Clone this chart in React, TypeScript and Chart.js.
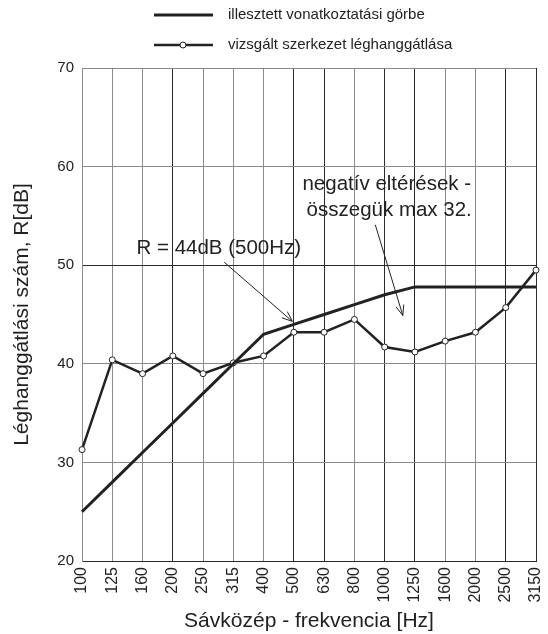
import React, { useEffect, useRef } from "react";
import { Chart, registerables } from "chart.js";

Chart.register(...registerables);

const frequencies = ["100", "125", "160", "200", "250", "315", "400", "500", "630", "800", "1000", "1250", "1600", "2000", "2500", "3150"];
const referenceCurve = [25, 28, 31, 34, 37, 40, 43, 44, 45, 46, 47, 47.8, 47.8, 47.8, 47.8, 47.8];
const measured = [31.3, 40.4, 39.0, 40.8, 39.0, 40.1, 40.8, 43.2, 43.2, 44.5, 41.7, 41.2, 42.3, 43.2, 45.7, 49.5];
const yTicks = [20, 30, 40, 50, 60, 70];
const legendLabels = ["illesztett vonatkoztatási görbe", "vizsgált szerkezet léghanggátlása"];
const xTitle = "Sávközép - frekvencia [Hz]";
const yTitle = "Léghanggátlási szám, R[dB]";
const note1 = "R = 44dB (500Hz)";
const note2 = ["negatív eltérések -", "összegük max 32."];

const INK = "#222222";
const GRID_GRAY = "#8a8a8a";
const GRID_DARK = "#2a2a2a";
const darkX = [3, 7, 8, 10, 11, 14, 15];
const darkY = [20, 50];
const FAMILY = "'Liberation Sans', Arial, sans-serif";

function arrow(ctx: CanvasRenderingContext2D, x1: number, y1: number, x2: number, y2: number) {
  const ang = Math.atan2(y2 - y1, x2 - x1);
  const len = 11;
  const spread = 0.38;
  ctx.beginPath();
  ctx.moveTo(x1, y1);
  ctx.lineTo(x2, y2);
  ctx.moveTo(x2 - len * Math.cos(ang - spread), y2 - len * Math.sin(ang - spread));
  ctx.lineTo(x2, y2);
  ctx.lineTo(x2 - len * Math.cos(ang + spread), y2 - len * Math.sin(ang + spread));
  ctx.stroke();
}

const overlay = {
  id: "overlay",
  afterDraw(chart: any) {
    const ctx: CanvasRenderingContext2D = chart.ctx;
    const xs = chart.scales.x;
    const ys = chart.scales.y;
    ctx.save();
    // legend
    ctx.strokeStyle = INK;
    ctx.fillStyle = INK;
    ctx.font = `15px ${FAMILY}`;
    ctx.textBaseline = "middle";
    ctx.textAlign = "left";
    const rows = [15, 45];
    ctx.lineWidth = 3;
    ctx.beginPath();
    ctx.moveTo(154, rows[0]);
    ctx.lineTo(213, rows[0]);
    ctx.stroke();
    ctx.lineWidth = 2.5;
    ctx.beginPath();
    ctx.moveTo(154, rows[1]);
    ctx.lineTo(213, rows[1]);
    ctx.stroke();
    ctx.lineWidth = 1;
    ctx.fillStyle = "#ffffff";
    ctx.beginPath();
    ctx.arc(183, rows[1], 3, 0, Math.PI * 2);
    ctx.fill();
    ctx.stroke();
    ctx.fillStyle = INK;
    ctx.fillText(legendLabels[0], 228, rows[0]);
    ctx.fillText(legendLabels[1], 228, rows[1]);

    // annotations
    ctx.font = `20.5px ${FAMILY}`;
    ctx.textAlign = "left";
    ctx.fillText(note1, xs.getPixelForValue(1.8), ys.getPixelForValue(51.75));
    ctx.textAlign = "center";
    ctx.fillText(note2[0], xs.getPixelForValue(10.07), ys.getPixelForValue(58.15));
    ctx.fillText(note2[1], xs.getPixelForValue(10.15), ys.getPixelForValue(55.6));
    ctx.lineWidth = 1;
    arrow(ctx, xs.getPixelForValue(4.7), ys.getPixelForValue(50.3), xs.getPixelForValue(6.95), ys.getPixelForValue(44.3));
    arrow(ctx, xs.getPixelForValue(9.69), ys.getPixelForValue(54.1), xs.getPixelForValue(10.6), ys.getPixelForValue(44.9));
    ctx.restore();
  },
};

export default function App() {
  const ref = useRef<HTMLCanvasElement>(null);
  useEffect(() => {
    if (!ref.current) return;
    const chart = new Chart(ref.current, {
      type: "line",
      data: {
        labels: frequencies,
        datasets: [
          {
            label: legendLabels[0],
            data: referenceCurve,
            borderColor: INK,
            borderWidth: 3,
            pointRadius: 0,
            tension: 0,
            fill: false,
          },
          {
            label: legendLabels[1],
            data: measured,
            borderColor: INK,
            borderWidth: 2.5,
            pointRadius: 3,
            pointBorderWidth: 1,
            pointBackgroundColor: "#ffffff",
            pointBorderColor: INK,
            tension: 0,
            fill: false,
          },
        ],
      },
      options: {
        responsive: false,
        animation: false,
        layout: { padding: { top: 68, left: 8, right: 0, bottom: 0 } },
        plugins: { legend: { display: false }, tooltip: { enabled: false } },
        scales: {
          x: {
            type: "category",
            offset: false,
            afterFit: (s: any) => {
              s.height = 73;
              s.paddingRight = 12;
            },
            grid: {
              drawTicks: false,
              offset: false,
              color: (c: any) => (darkX.includes(c.index) ? GRID_DARK : GRID_GRAY),
              lineWidth: 1,
            },
            border: { color: GRID_DARK, width: 1 },
            ticks: {
              autoSkip: false,
              minRotation: 90,
              maxRotation: 90,
              padding: 6,
              color: INK,
              font: { family: FAMILY, size: 16 },
            },
            title: {
              display: true,
              text: xTitle,
              color: INK,
              padding: { top: 0, bottom: 0 },
              font: { family: FAMILY, size: 21 },
            },
          },
          y: {
            min: yTicks[0],
            max: yTicks[yTicks.length - 1],
            afterFit: (s: any) => {
              s.width = 74;
            },
            afterBuildTicks: (s: any) => {
              s.ticks = yTicks.map((v) => ({ value: v }));
            },
            grid: {
              drawTicks: false,
              color: (c: any) => (darkY.includes(c.tick?.value) ? GRID_DARK : GRID_GRAY),
              lineWidth: 1,
            },
            border: { color: GRID_GRAY, width: 1 },
            ticks: {
              padding: 8,
              color: INK,
              font: { family: FAMILY, size: 15 },
            },
            title: {
              display: true,
              text: yTitle,
              color: INK,
              padding: { top: 2, bottom: 0 },
              font: { family: FAMILY, size: 21 },
            },
          },
        },
      },
      plugins: [overlay],
    });
    return () => chart.destroy();
  }, []);
  return (
    <div style={{ position: "absolute", left: 0, top: 0, width: 548, height: 634, background: "#fff" }}>
      <canvas ref={ref} width={548} height={634} style={{ display: "block" }} />
    </div>
  );
}
